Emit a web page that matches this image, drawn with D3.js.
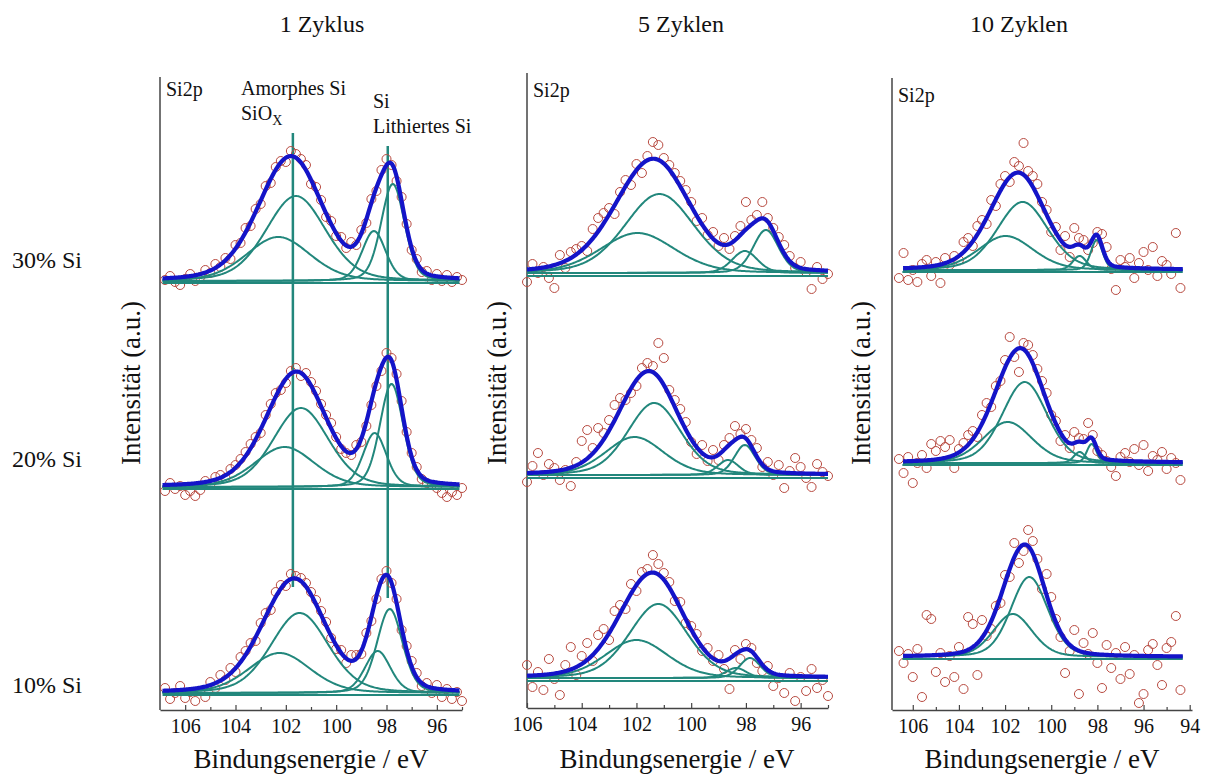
<!DOCTYPE html>
<html>
<head>
<meta charset="utf-8">
<script src="https://cdn.jsdelivr.net/npm/d3@7"></script>
<style>
  body { margin: 0; background: #fff; }
  svg, svg text { font-family: "Liberation Serif", "Times New Roman", serif; }
</style>
</head>
<body>
<svg id="chart" width="1210" height="778"></svg>
<script>
// ---- data (Si2p XPS, intensities in a.u.) ----
const cycles = ["1 Zyklus", "5 Zyklen", "10 Zyklen"];
const samples = ["30% Si", "20% Si", "10% Si"];

const majorTicks = [106, 104, 102, 100, 98, 96];
const majorTicks10 = [106, 104, 102, 100, 98, 96, 94];
const minorTicks = [105, 103, 101, 99, 97, 95];

// measured binding energies (eV)
const energy1 = [106.8,106.6,106.4,106.2,106.0,105.8,105.6,105.4,105.2,105.0,104.8,104.6,104.4,104.2,104.0,103.8,103.6,103.4,103.2,103.0,
  102.8,102.6,102.4,102.2,102.0,101.8,101.6,101.4,101.2,101.0,100.8,100.6,100.4,100.2,100.0,99.8,99.6,99.4,99.2,99.0,
  98.8,98.6,98.4,98.2,98.0,97.8,97.6,97.4,97.2,97.0,96.8,96.6,96.4,96.2,96.0,95.8,95.6,95.4,95.2,95.0];
const energy5 = [106.0,105.8,105.6,105.4,105.2,105.0,104.8,104.6,104.4,104.2,104.0,103.8,103.6,103.4,103.2,103.0,102.8,102.6,102.4,102.2,
  102.0,101.8,101.6,101.4,101.2,101.0,100.8,100.6,100.4,100.2,100.0,99.8,99.6,99.4,99.2,99.0,98.8,98.6,98.4,98.2,
  98.0,97.8,97.6,97.4,97.2,97.0,96.8,96.6,96.4,96.2,96.0,95.8,95.6,95.4,95.2,95.0];
const energy10 = [106.6,106.4,106.2,106.0,105.8,105.6,105.4,105.2,105.0,104.8,104.6,104.4,104.2,104.0,103.8,103.6,103.4,103.2,103.0,102.8,
  102.6,102.4,102.2,102.0,101.8,101.6,101.4,101.2,101.0,100.8,100.6,100.4,100.2,100.0,99.8,99.6,99.4,99.2,99.0,98.8,
  98.6,98.4,98.2,98.0,97.8,97.6,97.4,97.2,97.0,96.8,96.6,96.4,96.2,96.0,95.8,95.6,95.4,95.2,95.0,94.8,94.6,94.4];

// measured intensities, above each spectrum's baseline
const counts1_30 = [3,7,1,-2,4,9,2,6,13,10, 19,16,25,24,38,40,55,57,74,79, 97,100,116,122,121,132,129,124,118,99,
  96,83,66,62,47,46,35,41,38,53, 60,84,92,113,124,118,102,86,59,33, 24,11,12,3,9,2,8,1,6,3];
const counts1_20 = [-2,6,0,3,-6,-2,-7,-1,8,5, 12,14,11,20,24,30,37,45,52,56, 74,85,96,99,106,118,121,113,116,107,
  98,85,74,66,52,40,36,34,44,47, 63,84,103,118,136,131,115,88,57,36, 22,10,6,4,1,-4,-8,-3,-6,1];
const counts1_10 = [7,-4,2,9,-3,3,-6,4,-2,13, 7,20,15,27,23,38,44,52,54,72, 82,85,103,110,109,121,119,117,112,103,
  95,84,73,57,46,45,32,40,40,41, 62,74,96,116,124,112,96,65,49,34, 22,9,12,2,10,-2,6,-4,3,-6];

const counts5_30 = [-6,12,3,9,-2,-12,21,8,24,27, 30,25,47,58,63,68,62,84,96,91, 112,103,120,134,131,118,111,103,95,86,
  74,55,58,41,44,30,38,27,40,50, 74,56,61,74,58,48,39,31,20,8, 14,4,-13,9,-3,2];
const counts5_20 = [-4,12,25,3,14,10,-2,8,-8,16, 37,48,30,50,45,58,73,80,78,85, 92,110,115,112,135,120,88,78,69,56,
  36,24,33,17,28,18,33,40,52,44, 49,38,30,11,16,3,13,-10,7,20, 11,0,-9,14,6,2];
const counts5_10 = [16,-6,9,-9,22,2,-14,16,34,6, 25,38,20,46,52,41,70,76,72,97, 90,109,112,126,117,108,99,80,79,58,
  55,47,30,33,20,26,12,-8,31,22, 37,33,18,10,15,-5,3,-12,8,-20, 4,-10,12,-7,1,-15];

const counts10_30 = [-6,19,-8,2,-10,8,12,-4,10,-11, 14,7,16,12,30,34,26,46,52,48, 72,66,88,96,90,110,106,129,101,96,
  88,70,62,40,45,22,36,15,44,34, 32,22,29,40,38,25,3,-18,12,5, 14,-6,9,20,2,25,-4,11,7,-2, 39,-16];
const counts10_20 = [6,-8,8,-18,2,10,-3,21,14,24, 18,25,-3,16,22,30,34,28,50,62, 58,79,84,105,128,108,93,122,120,110,
  96,84,72,50,44,24,30,17,33,27, 26,42,30,14,10,4,-2,-11,8,12, 3,16,0,20,-6,9,5,13,-4,7, 2,-15];
const counts10_10 = [8,-4,5,-18,10,-38,44,40,-13,6, -23,3,-18,12,-30,42,35,-16,39,23, 30,53,56,84,82,116,96,108,129,118,
  100,70,85,62,40,22,-14,8,29,-35, 16,5,26,-4,-29,14,-9,6,-20,12, -15,4,-44,-35,9,15,-6,-26,11,17, 43,-31];

// fitted components: [centre eV, height, FWHM eV]  (SiOx, amorphous Si, Si, lithiated Si)
const fit1_30 = [[101.6, 85, 2.8], [102.3, 44, 3.0], [98.5, 50, 1.1], [97.75, 97, 1.1]];
const fit1_20 = [[101.4, 79, 2.6], [102.05, 40, 2.8], [98.47, 54, 1.1], [97.8, 103, 1.1]];
const fit1_10 = [[101.45, 80, 2.7], [102.25, 40, 2.9], [98.35, 42, 1.2], [97.87, 84, 1.2]];
const fit5_30 = [[101.16, 79, 3.0], [101.96, 40, 3.2], [98.04, 22, 1.1], [97.27, 43, 1.1]];
const fit5_20 = [[101.35, 72, 2.3], [102.07, 38, 2.5], [98.65, 15, 0.9], [98.04, 30, 0.9]];
const fit5_10 = [[101.2, 74, 2.5], [102.0, 38, 2.7], [98.36, 10, 0.9], [97.85, 20, 0.9]];
const fit10_30 = [[101.24, 68, 2.6], [101.97, 34, 2.8], [98.77, 14, 0.7], [98.03, 30, 0.6]];
const fit10_20 = [[101.15, 81, 2.3], [101.89, 41, 2.5], [98.77, 11, 0.6], [98.25, 19, 0.5]];
const fit10_10 = [[100.95, 80, 1.9], [101.67, 43, 2.0]];

const background1 = [2, 2, 2];
const background5 = [3, 3, 3];
const background10 = [2, 2, 2];

// reference lines drawn in the 1 Zyklus panel (eV, span in a.u.)
const markerLines = [
  { energy: 101.72, from: 123, to: 577 },
  { energy: 97.95, from: 112, to: 564 },
];

// ---- layout ----
const teal = "#22877c";
const blue = "#1414c8";
const red = "#b84a40";
const axisColor = "#444";
const serif = "'Liberation Serif', 'Times New Roman', serif";
const glMix = 0.25;

const panels = [
  { title: cycles[0], energy: energy1, counts: [counts1_30, counts1_20, counts1_10], fits: [fit1_30, fit1_20, fit1_10],
    bg: background1, domain: [107, 95], ticks: majorTicks, fitRange: [106.9, 95.1], markers: markerLines,
    left: 160, right: 462, top: 77, bottom: 710, offsets: [427, 221, 15],
    titleX: 322, xLabelX: 311, yLabelX: 140, tagX: 166, tagY: 96 },
  { title: cycles[1], energy: energy5, counts: [counts5_30, counts5_20, counts5_10], fits: [fit5_30, fit5_20, fit5_10],
    bg: background5, domain: [106, 95], ticks: majorTicks, fitRange: [106.0, 95.0], markers: [],
    left: 527, right: 828, top: 73, bottom: 708, offsets: [432, 230, 27],
    titleX: 681, xLabelX: 677, yLabelX: 506, tagX: 533, tagY: 97 },
  { title: cycles[2], energy: energy10, counts: [counts10_30, counts10_20, counts10_10], fits: [fit10_30, fit10_20, fit10_10],
    bg: background10, domain: [106.9, 93.9], ticks: majorTicks10, fitRange: [106.45, 94.3], markers: [],
    left: 892, right: 1192, top: 78, bottom: 710, offsets: [438, 245, 51],
    titleX: 1019, xLabelX: 1042, yLabelX: 870, tagX: 898, tagY: 102 },
];

const svg = d3.select("#chart");

function pseudoVoigt(e, peak) {
  const t = (e - peak[0]) / peak[2];
  const g = Math.exp(-4 * Math.LN2 * t * t);
  const l = 1 / (1 + 4 * t * t);
  return peak[1] * ((1 - glMix) * g + glMix * l);
}

function drawPanel(p) {
  const x = d3.scaleLinear().domain(p.domain).range([p.left, p.right]);
  const y = d3.scaleLinear().domain([0, p.bottom - p.top]).range([p.bottom, p.top]);
  const g = svg.append("g");

  // bottom axis, ticks pointing inwards
  const axis = g.append("g").attr("transform", `translate(0,${p.bottom})`);
  axis.call(d3.axisBottom(x).tickValues(p.ticks).tickSize(-5).tickSizeOuter(0).tickPadding(9).tickFormat(d3.format("d")));
  axis.attr("font-family", serif).attr("font-size", 20);
  axis.select(".domain").attr("stroke", axisColor).attr("stroke-width", 1.5);
  axis.selectAll(".tick line").attr("stroke", axisColor).attr("stroke-width", 1.2);
  axis.selectAll(".tick text").attr("fill", "#111");

  const minor = g.append("g").attr("transform", `translate(0,${p.bottom})`);
  minor.call(d3.axisBottom(x).tickValues(minorTicks).tickSize(-3).tickSizeOuter(0).tickFormat(""));
  minor.select(".domain").remove();
  minor.selectAll(".tick line").attr("stroke", axisColor).attr("stroke-width", 1.2);

  // left axis: plain line, no ticks
  g.append("line")
    .attr("x1", p.left).attr("x2", p.left)
    .attr("y1", y(0)).attr("y2", y(p.bottom - p.top))
    .attr("stroke", axisColor).attr("stroke-width", 1.5);

  // titles
  g.append("text").text(p.title)
    .attr("x", p.titleX).attr("y", 32)
    .attr("text-anchor", "middle").attr("font-size", 24).attr("fill", "#111");
  g.append("text").text("Bindungsenergie / eV")
    .attr("x", p.xLabelX).attr("y", 768)
    .attr("text-anchor", "middle").attr("font-size", 27).attr("fill", "#111");
  g.append("text").text("Intensität (a.u.)")
    .attr("transform", `translate(${p.yLabelX},383) rotate(-90)`)
    .attr("text-anchor", "middle").attr("font-size", 27).attr("fill", "#111");
  g.append("text").text("Si2p")
    .attr("x", p.tagX).attr("y", p.tagY)
    .attr("font-size", 20).attr("fill", "#111");

  // reference lines (behind the spectra)
  g.append("g").selectAll("line")
    .data(p.markers)
    .enter()
    .append("line")
    .attr("x1", d => x(d.energy)).attr("x2", d => x(d.energy))
    .attr("y1", d => y(d.from)).attr("y2", d => y(d.to))
    .attr("stroke", teal).attr("stroke-width", 2.5);

  const grid = d3.range(p.fitRange[1], p.fitRange[0] + 0.001, 0.04);

  p.fits.forEach((fit, i) => {
    const off = p.offsets[i];
    const bg = p.bg[i];
    const row = g.append("g");

    // measured points
    row.append("g").selectAll("circle")
      .data(p.counts[i].map((c, j) => [p.energy[j], c]))
      .enter()
      .append("circle")
      .attr("cx", d => x(d[0]))
      .attr("cy", d => y(off + d[1]))
      .attr("r", 4.5)
      .attr("fill", "none")
      .attr("stroke", red)
      .attr("stroke-width", 1);

    // background line
    row.append("line")
      .attr("x1", x(p.fitRange[0])).attr("x2", x(p.fitRange[1]))
      .attr("y1", y(off)).attr("y2", y(off))
      .attr("stroke", teal).attr("stroke-width", 2.2);

    // components
    const line = d3.line().x(d => x(d[0])).y(d => y(off + d[1]));
    fit.forEach(peak => {
      row.append("path")
        .attr("d", line(grid.map(e => [e, bg + pseudoVoigt(e, peak)])))
        .attr("fill", "none").attr("stroke", teal).attr("stroke-width", 2);
    });

    // envelope
    row.append("path")
      .attr("d", line(grid.map(e => [e, bg + d3.sum(fit, peak => pseudoVoigt(e, peak))])))
      .attr("fill", "none").attr("stroke", blue).attr("stroke-width", 4.2)
      .attr("stroke-linejoin", "round");
  });

  return g;
}

const drawn = panels.map(drawPanel);

// peak assignments in the first panel
const notes = drawn[0].append("g").attr("font-size", 20).attr("fill", "#111");
notes.append("text").text("Amorphes Si").attr("x", 241).attr("y", 95);
const siox = notes.append("text").attr("x", 241).attr("y", 120);
siox.append("tspan").text("SiO");
siox.append("tspan").text("X").attr("font-size", 14).attr("dy", 5);
notes.append("text").text("Si").attr("x", 373).attr("y", 108);
notes.append("text").text("Lithiertes Si").attr("x", 373).attr("y", 133);

// sample labels on the far left
svg.append("g").selectAll("text")
  .data(samples)
  .enter()
  .append("text")
  .text(d => d)
  .attr("x", 12)
  .attr("y", (d, i) => [268, 467, 693][i])
  .attr("font-size", 24)
  .attr("fill", "#111");
</script>
</body>
</html>
